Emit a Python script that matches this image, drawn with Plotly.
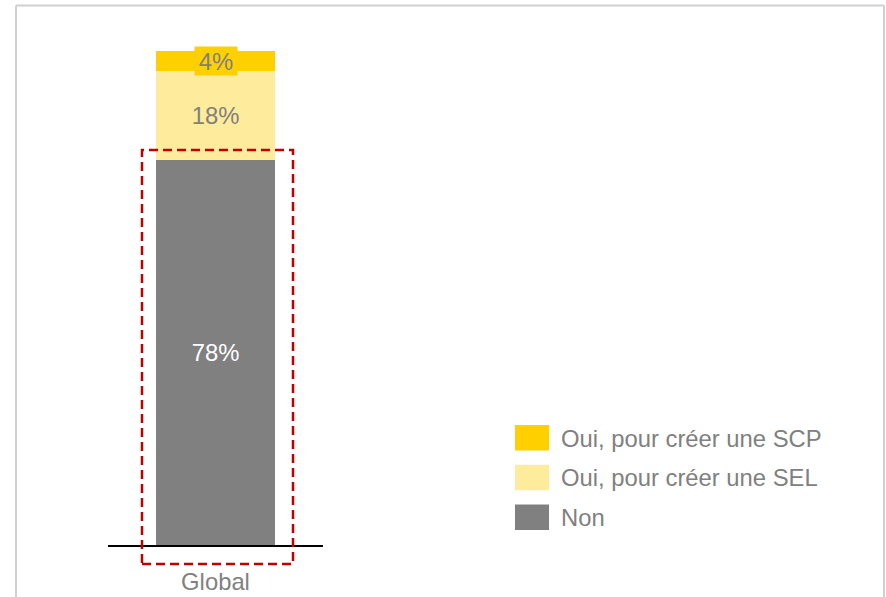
import plotly.graph_objects as go

W, H = 886, 597

categories = ["Global"]
series_names = ["Non", "Oui, pour créer une SEL", "Oui, pour créer une SCP"]
non_values = [78]
sel_values = [18]
scp_values = [4]
colors = {"Non": "#808080", "Oui, pour créer une SEL": "#FFEB9C", "Oui, pour créer une SCP": "#FFD000"}
text_colors = {"Non": "#FFFFFF", "Oui, pour créer une SEL": "#808080", "Oui, pour créer une SCP": "#808080"}
values = {"Non": non_values, "Oui, pour créer une SEL": sel_values, "Oui, pour créer une SCP": scp_values}

FONT = "Liberation Sans, Arial, sans-serif"
FS = 23.8

def px_x(x):
    return x / W

def px_y(y):
    return 1 - y / H

fig = go.Figure()
for name in series_names:
    vals = values[name]
    show_inside = name != "Oui, pour créer une SCP"
    fig.add_trace(go.Bar(
        x=categories, y=vals, name=name,
        marker=dict(color=colors[name], line=dict(width=0)),
        text=[f"{v}%" for v in vals] if show_inside else None,
        textposition="inside", insidetextanchor="middle",
        textfont=dict(color=text_colors[name], size=FS, family=FONT),
        constraintext="none",
        showlegend=False,
    ))

# small segment label with its own background box
fig.add_annotation(
    x=categories[0], y=non_values[0] + sel_values[0] + scp_values[0] / 2,
    xref="x", yref="y", text=f"{scp_values[0]}%", showarrow=False,
    font=dict(color="#808080", size=FS, family=FONT),
    bgcolor=colors["Oui, pour créer une SCP"], borderpad=0, width=42, height=28,
)

# manual legend (top to bottom: SCP, SEL, Non)
legend_order = ["Oui, pour créer une SCP", "Oui, pour créer une SEL", "Non"]
for i, name in enumerate(legend_order):
    top = 425 + i * 39.7
    fig.add_shape(type="rect", xref="paper", yref="paper",
                  x0=px_x(515), x1=px_x(549), y0=px_y(top + 25.5), y1=px_y(top),
                  fillcolor=colors[name], line=dict(width=0))
    fig.add_annotation(xref="paper", yref="paper", x=px_x(559), y=px_y(top + 13),
                       xanchor="left", yanchor="middle", showarrow=False,
                       text=name, font=dict(color="#808080", size=FS, family=FONT))

# red dashed highlight box
fig.add_shape(type="rect", xref="paper", yref="paper",
              x0=px_x(142), x1=px_x(293), y0=px_y(564), y1=px_y(150),
              line=dict(color="#C00000", width=2.5, dash="9px,5px"), fillcolor="rgba(0,0,0,0)")

# outer frame
for x0, y0, x1, y1 in [(16, 5.5, 16, 600), (16, 5.5, 884, 5.5), (884, 5.5, 884, 600)]:
    fig.add_shape(type="line", xref="paper", yref="paper",
                  x0=px_x(x0), y0=px_y(y0), x1=px_x(x1), y1=px_y(y1),
                  line=dict(color="#D0D0D0", width=2))

fig.update_layout(
    width=W, height=H,
    margin=dict(l=0, r=0, t=0, b=0, autoexpand=False),
    paper_bgcolor="white", plot_bgcolor="white",
    barmode="stack", bargap=0.45,
    font=dict(family=FONT, size=FS, color="#808080"),
    xaxis=dict(domain=[px_x(108), px_x(323)], showline=True, linecolor="black", linewidth=2,
               ticks="", showgrid=False, ticklabelstandoff=14, automargin=False,
               tickfont=dict(size=FS, color="#808080", family=FONT)),
    yaxis=dict(domain=[px_y(545), px_y(51)], range=[0, 100], visible=False, showgrid=False,
               automargin=False),
    showlegend=False,
)

fig.write_html("out.html", config={"displayModeBar": False},
               post_script="document.body.style.margin='0';document.body.style.overflow='hidden';")
